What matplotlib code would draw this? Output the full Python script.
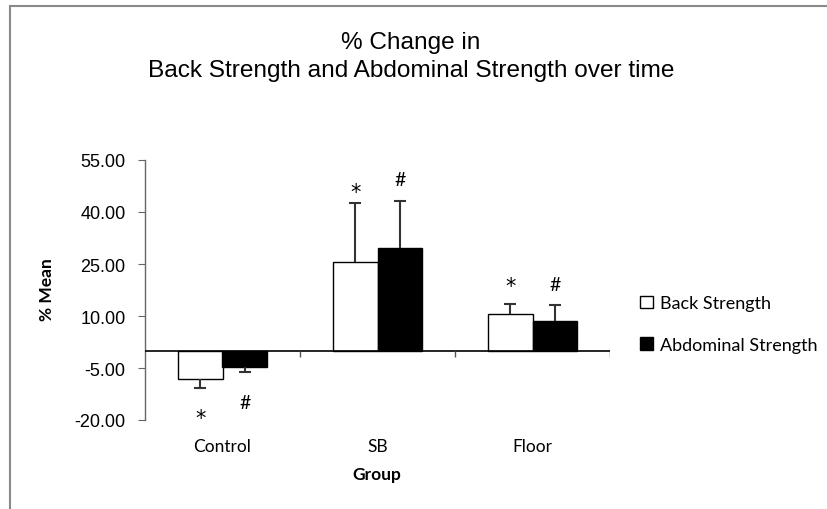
import matplotlib
matplotlib.use("Agg")
from matplotlib import pyplot as plt
from matplotlib.patches import Rectangle, Patch
from matplotlib.transforms import offset_copy
import numpy as np

# values
groups = ['Control', 'SB', 'Floor']
back_mean = [-8.3, 25.6, 10.5]
back_err = [2.4, 16.9, 3.0]
abd_mean = [-4.6, 29.6, 8.5]
abd_err = [1.6, 13.7, 4.8]
back_sig_y = [-17.6, 47.4, 20.5]
abd_sig_y = [-15.0, 49.4, 19.1]
yticks = [-20, -5, 10, 25, 40, 55]

calibri = ['Lato', 'DejaVu Sans']
arial = ['Liberation Sans', 'DejaVu Sans']

fig = plt.figure(figsize=(8.28, 5.10), dpi=100)
# outer chart frame (partly off-canvas)
fig.patches.append(Rectangle((10/828, -0.1), 1.2, 1 - 7/510 + 0.1, transform=fig.transFigure,
                             fill=False, edgecolor='#8a8a8a', linewidth=1.5))

ax = fig.add_axes([145/828, 1 - 421/510, 465/828, 260/510])
x = np.arange(len(groups))
w = 0.287

ax.bar(x - w/2, back_mean, w, color='white', edgecolor='black', linewidth=1, zorder=2)
ax.bar(x + w/2, abd_mean, w, color='black', edgecolor='black', linewidth=1, zorder=2)

# one-sided error bars, cap only at the far end
for xs, means, errs in [(x - w/2, back_mean, back_err), (x + w/2, abd_mean, abd_err)]:
    ends = [m + e if m >= 0 else m - e for m, e in zip(means, errs)]
    ax.vlines(xs, means, ends, color='#333333', linewidth=1.5, zorder=3)
    ax.plot(xs, ends, linestyle='none', marker='_', markersize=8, mew=1.5,
            color='#333333', zorder=3)

star_tr = offset_copy(ax.transData, fig=fig, y=-0.58 * 15, units='points')
for xi, y in zip(x - w/2, back_sig_y):
    ax.text(xi, y, '*', ha='center', va='baseline', fontsize=15, family='DejaVu Sans',
            transform=star_tr)
for xi, y in zip(x + w/2, abd_sig_y):
    ax.text(xi, y, '#', ha='center', va='center', fontsize=14, family=calibri)

ax.set_xlim(-0.5, 2.5)
ax.set_ylim(-20, 55)
ax.axhline(0, color='black', linewidth=1.2, zorder=4)
ax.vlines([0.5, 1.5, 2.5], -1.8, 0, color='#555555', linewidth=1, zorder=4)

for s in ['top', 'right', 'bottom']:
    ax.spines[s].set_visible(False)
ax.spines['left'].set_color('#666666')
ax.spines['left'].set_linewidth(1)
ax.set_yticks(yticks)
ax.set_yticklabels([f'{v:.2f}' for v in yticks], family=arial, fontsize=13)
ax.tick_params(axis='y', direction='out', length=5, color='#666666', pad=9)
ax.set_xticks([])

for xi, g in zip(x, groups):
    fig.text((145 + 155*(xi + 0.5))/828, 1 - 447/510, g, ha='center', va='center',
             fontsize=12.5, family=calibri)
fig.text(377/828, 1 - 475/510, 'Group', ha='center', va='center', fontsize=12.5,
         fontweight='bold', family=calibri)
fig.text(47/828, 1 - 290/510, '% Mean', ha='center', va='center', rotation=90,
         fontsize=12.5, fontweight='bold', family=calibri)

fig.text(411/828, 1 - 57/510, '% Change in\nBack Strength and Abdominal Strength over time',
         ha='center', va='center', fontsize=17.6, family=arial, linespacing=1.35)

handles = [Patch(facecolor='white', edgecolor='black', linewidth=1),
           Patch(facecolor='black', edgecolor='black', linewidth=1)]
fig.legend(handles, ['Back Strength', 'Abdominal Strength'], loc='center left',
           bbox_to_anchor=(640/828, 1 - 325/510), frameon=False, prop={'family': calibri, 'size': 13},
           handlelength=0.7, handleheight=0.7, handletextpad=0.4, labelspacing=1.4, borderpad=0,
           borderaxespad=0)

fig.savefig('out.png', dpi=100)
